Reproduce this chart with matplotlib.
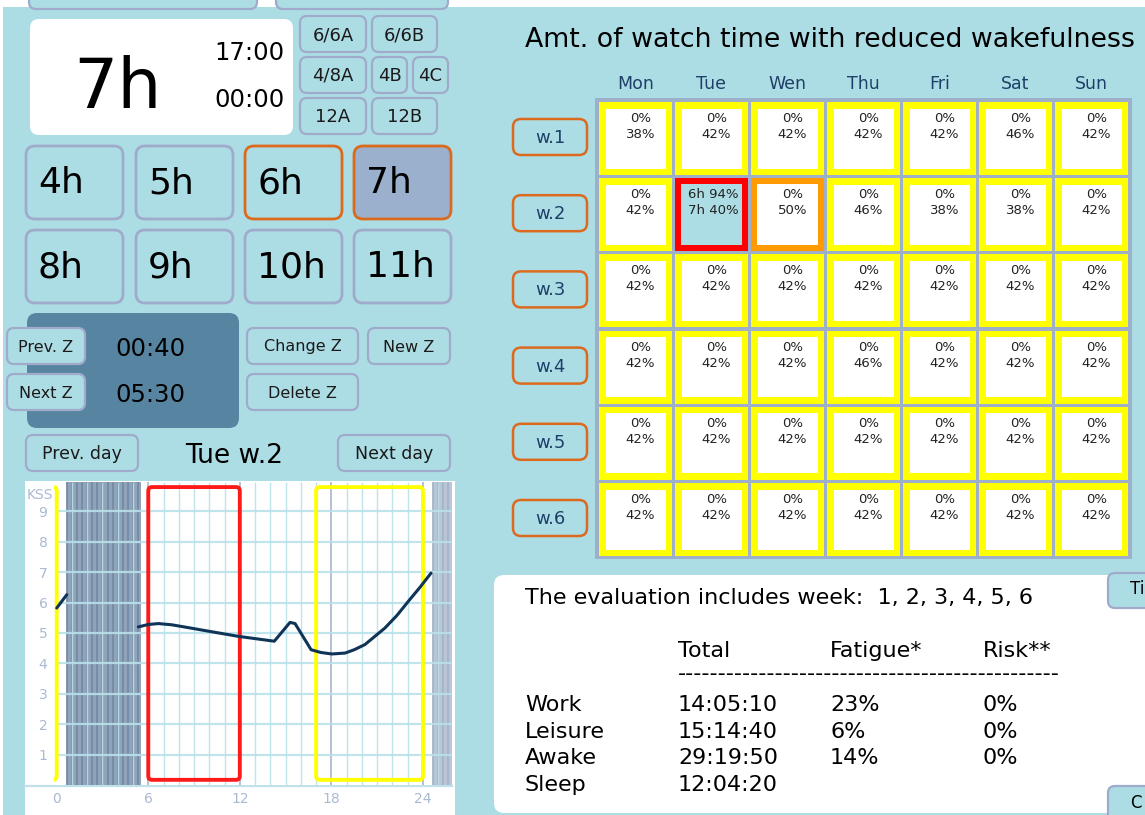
import numpy as np
import matplotlib.pyplot as plt
from matplotlib.patches import FancyBboxPatch, Rectangle

BG = '#ADDDE4'
EDGE = '#A0AACB'
ORANGE = '#DC6A1E'
NAVY = '#1E3F68'
TICK = '#AAB9D2'

# week plan
days = ['Mon', 'Tue', 'Wen', 'Thu', 'Fri', 'Sat', 'Sun']
weeks = ['w.1', 'w.2', 'w.3', 'w.4', 'w.5', 'w.6']
upper_pct = [[0, 0, 0, 0, 0, 0, 0],
             [0, 94, 0, 0, 0, 0, 0],
             [0, 0, 0, 0, 0, 0, 0],
             [0, 0, 0, 0, 0, 0, 0],
             [0, 0, 0, 0, 0, 0, 0],
             [0, 0, 0, 0, 0, 0, 0]]
lower_pct = [[38, 42, 42, 42, 42, 46, 42],
             [42, 40, 50, 46, 38, 38, 42],
             [42, 42, 42, 42, 42, 42, 42],
             [42, 42, 42, 46, 42, 42, 42],
             [42, 42, 42, 42, 42, 42, 42],
             [42, 42, 42, 42, 42, 42, 42]]
cell_state = [['y'] * 7, ['y', 'r', 'o', 'y', 'y', 'y', 'y'],
              ['y'] * 7, ['y'] * 7, ['y'] * 7, ['y'] * 7]
selected_shifts = ['6h', '7h']

# day view (Tue w.2)
sleep_periods = [(0.667, 5.5), (24.667, 25.9)]
work_periods = [(6, 12, '#FF1A1A'), (17, 24, '#FFFF00'), (-7, 0, '#FFFF00')]
kss_h1 = [0.0, 0.66]
kss_v1 = [5.82, 6.26]
kss_h2 = [5.35, 6.0, 6.66, 7.54, 8.7, 9.94, 11.9, 14.26, 15.29, 15.62,
          16.67, 17.3, 18.02, 18.9, 19.5, 20.2, 21.5, 22.3, 23.04, 23.8, 24.53]
kss_v2 = [5.20, 5.28, 5.31, 5.27, 5.17, 5.06, 4.89, 4.73, 5.35, 5.31,
          4.45, 4.36, 4.31, 4.34, 4.45, 4.62, 5.16, 5.58, 6.04, 6.50, 6.97]

# evaluation
eval_rows = ['Work', 'Leisure', 'Awake', 'Sleep']
eval_total = ['14:05:10', '15:14:40', '29:19:50', '12:04:20']
eval_fatigue = ['23%', '6%', '14%', '']
eval_risk = ['0%', '0%', '0%', '']

mode_buttons = ['4h', '5h', '6h', '7h', '8h', '9h', '10h', '11h']

fig = plt.figure(figsize=(11.45, 8.15), dpi=100)
fig.patch.set_facecolor('white')
ui = fig.add_axes([0, 0, 1, 1])
ui.set_xlim(0, 1145)
ui.set_ylim(815, 0)
ui.axis('off')


def box(x0, y0, x1, y1, fc=BG, ec=EDGE, lw=1.6, r=7, z=2):
    p = FancyBboxPatch((x0, y0), x1 - x0, y1 - y0,
                       boxstyle='round,pad=0,rounding_size=%g' % r,
                       fc=fc, ec=ec, lw=lw, zorder=z)
    ui.add_patch(p)


def button(x0, y0, x1, y1, label, size=11.5, color='#1A1A1A', **kw):
    box(x0, y0, x1, y1, **kw)
    ui.text((x0 + x1) / 2, (y0 + y1) / 2 + 1, label, ha='center', va='center',
            fontsize=size, color=color, zorder=5)


ui.add_patch(Rectangle((3, 7), 1142, 808, fc=BG, ec='none', zorder=0))

# cut-off buttons at the top
box(29, -30, 257, 9)
box(276, -30, 448, 9)

# current selection box
box(30, 19, 293, 135, fc='white', ec='none', r=9)
ui.text(117, 108, '7h', fontsize=50, ha='center', va='baseline', zorder=5)
ui.text(249, 60, '17:00', fontsize=17.5, ha='center', va='baseline', zorder=5)
ui.text(249, 107, '00:00', fontsize=17.5, ha='center', va='baseline', zorder=5)

button(300, 16, 366, 52, '6/6A', 13)
button(372, 16, 437, 52, '6/6B', 13)
button(300, 57, 366, 93, '4/8A', 13)
button(372, 57, 407, 93, '4B', 13)
button(413, 57, 448, 93, '4C', 13)
button(300, 98, 366, 134, '12A', 13)
button(372, 98, 437, 134, '12B', 13)

col_x = [26, 136, 245, 354]
row_y = [146, 230]
for i, lab in enumerate(mode_buttons):
    x0 = col_x[i % 4]
    y0 = row_y[i // 4]
    fc, ec = BG, EDGE
    if lab == '6h':
        ec = ORANGE
    if lab == '7h':
        ec, fc = ORANGE, '#9BB0CC'
    box(x0, y0, x0 + 97, y0 + 73, fc=fc, ec=ec, lw=2, r=9)
    ui.text(x0 + 12, y0 + 47, lab, fontsize=26, ha='left', va='baseline', zorder=5)

# sleep (Z) controls
box(27, 313, 239, 428, fc='#5784A0', ec='none', r=10)
ui.text(150, 356, '00:40', fontsize=17.5, ha='center', va='baseline', zorder=5)
ui.text(150, 402, '05:30', fontsize=17.5, ha='center', va='baseline', zorder=5)
button(7, 328, 85, 364, 'Prev. Z', 11.5)
button(7, 374, 85, 410, 'Next Z', 11.5)
button(247, 328, 358, 364, 'Change Z', 11.5)
button(368, 328, 450, 364, 'New Z', 11.5)
button(247, 374, 358, 410, 'Delete Z', 11.5)

button(26, 435, 138, 471, 'Prev. day', 12.5)
button(338, 435, 450, 471, 'Next day', 12.5)
ui.text(234, 463, 'Tue w.2', fontsize=19, ha='center', va='baseline', zorder=5)

# chart background
ui.add_patch(Rectangle((25, 481), 430, 334, fc='white', ec='none', zorder=1))
ui.plot([25, 452], [786, 786], color='#BFE2EA', lw=1.6, zorder=3)

# week grid
ui.text(525, 47, 'Amt. of watch time with reduced wakefulness', fontsize=19.3,
        ha='left', va='baseline', zorder=5)
gx0, gy0, pitch_x, pitch_y, cw, ch = 599, 102, 76, 76.2, 73, 73
ui.add_patch(Rectangle((595, 98), 537, 461, fc='#9EAFCA', ec='none', zorder=2))
state_col = {'y': '#FFFF00', 'r': '#FF0000', 'o': '#FF9A00'}
for j, d in enumerate(days):
    ui.text(gx0 + j * pitch_x + cw / 2, 84, d, fontsize=12.5, color=NAVY,
            ha='center', va='center', zorder=5)
for i, w in enumerate(weeks):
    y0 = gy0 + i * pitch_y
    button(513, y0 + 17, 587, y0 + 53, w, 13, color=NAVY, ec=ORANGE, lw=1.8, r=8)
    for j in range(7):
        x0 = gx0 + j * pitch_x
        st = cell_state[i][j]
        ui.add_patch(Rectangle((x0, y0), cw, ch, fc=state_col[st], ec='none', zorder=3))
        inner = BG if st == 'r' else 'white'
        b = 6.5 if st == 'y' else 6
        ui.add_patch(Rectangle((x0 + b, y0 + b), cw - 2 * b, ch - 2 * b,
                               fc=inner, ec='none', zorder=4))
        if st == 'r':
            t1 = '%s %d%%' % (selected_shifts[0], upper_pct[i][j])
            t2 = '%s %d%%' % (selected_shifts[1], lower_pct[i][j])
            xc = x0 + cw / 2 + 1.5
        else:
            t1 = '%d%%' % upper_pct[i][j]
            t2 = '%d%%' % lower_pct[i][j]
            xc = x0 + cw / 2 + 5
        ui.text(xc, y0 + 20, t1, fontsize=9.5, color='#222222', ha='center',
                va='baseline', zorder=5)
        ui.text(xc, y0 + 36, t2, fontsize=9.5, color='#222222', ha='center',
                va='baseline', zorder=5)

# evaluation panel
box(494, 575, 1160, 813, fc='white', ec='none', r=10)
ui.text(525, 604, 'The evaluation includes week:  1, 2, 3, 4, 5, 6', fontsize=16,
        ha='left', va='baseline', zorder=5)
cols = [525, 678, 830, 983]
for x, h in zip(cols[1:], ['Total', 'Fatigue*', 'Risk**']):
    ui.text(x, 657, h, fontsize=16, ha='left', va='baseline', zorder=5)
ui.text(678, 680, '-' * 47, fontsize=16, ha='left', va='baseline', zorder=5)
for k, lab in enumerate(eval_rows):
    yb = 711 + k * 26.7
    for x, t in zip(cols, [lab, eval_total[k], eval_fatigue[k], eval_risk[k]]):
        ui.text(x, yb, t, fontsize=16, ha='left', va='baseline', zorder=5)

button(1108, 573, 1180, 608, '', 12)
ui.text(1130, 594, 'Ti', fontsize=12, ha='left', va='baseline', zorder=5)
button(1108, 786, 1180, 830, '', 12)
ui.text(1130, 808, 'C', fontsize=12, ha='left', va='baseline', zorder=5)

# KSS day chart
px0, sx, py0, sy = 56.7, 15.26, 785, 30.4
xmin, xmax, ymax = -0.15, 25.9, 9.97
left = px0 + xmin * sx
ax = fig.add_axes([left / 1145, (815 - py0) / 815, (xmax - xmin) * sx / 1145, ymax * sy / 815])
ax.set_xlim(xmin, xmax)
ax.set_ylim(0, ymax)
ax.set_facecolor('white')
for s in ax.spines.values():
    s.set_visible(False)

for k, (a, b) in enumerate(sleep_periods):
    fc, sc = ('#91A3B9', '#738CA6') if k == 0 else ('#BAC6D8', '#A3B4CA')
    ax.axvspan(a, b, color=fc, lw=0, zorder=1)
    ax.vlines(np.arange(a, b, 1 / 3), 0, ymax, color=sc, lw=1.3, zorder=1.5)

hours = np.arange(0, 26)
ax.vlines([h for h in hours if h % 6], 0, ymax, color='#B9E1EA', lw=1.0, alpha=0.9, zorder=2)
ax.vlines([h for h in hours if h % 6 == 0 and h > 0], 0, ymax, color='#A9B5CD', lw=1.2, zorder=2)
ax.hlines(np.arange(1, 10), 0, xmax, color='#B9E1EA', lw=1.6, alpha=0.9, zorder=2)

for a, b, c in work_periods:
    ax.add_patch(FancyBboxPatch((a, 0.17), b - a, 9.63,
                                boxstyle='round,pad=0,rounding_size=0.25',
                                mutation_aspect=sx / sy, fc='none', ec=c,
                                lw=2.8, zorder=3, clip_on=True))

ax.plot(kss_h1, kss_v1, color='#0F3457', lw=2.2, zorder=4, solid_capstyle='round')
ax.plot(kss_h2, kss_v2, color='#0F3457', lw=2.2, zorder=4, solid_capstyle='round')

ax.set_xticks([0, 6, 12, 18, 24])
ax.set_yticks(range(1, 10))
ax.tick_params(length=0, labelsize=10, colors=TICK, pad=5)
ax.text(-2.0, 9.55, 'KSS', fontsize=10, color=TICK, ha='left', va='center', zorder=1)

fig.savefig('out.png', dpi=100, facecolor='white')
